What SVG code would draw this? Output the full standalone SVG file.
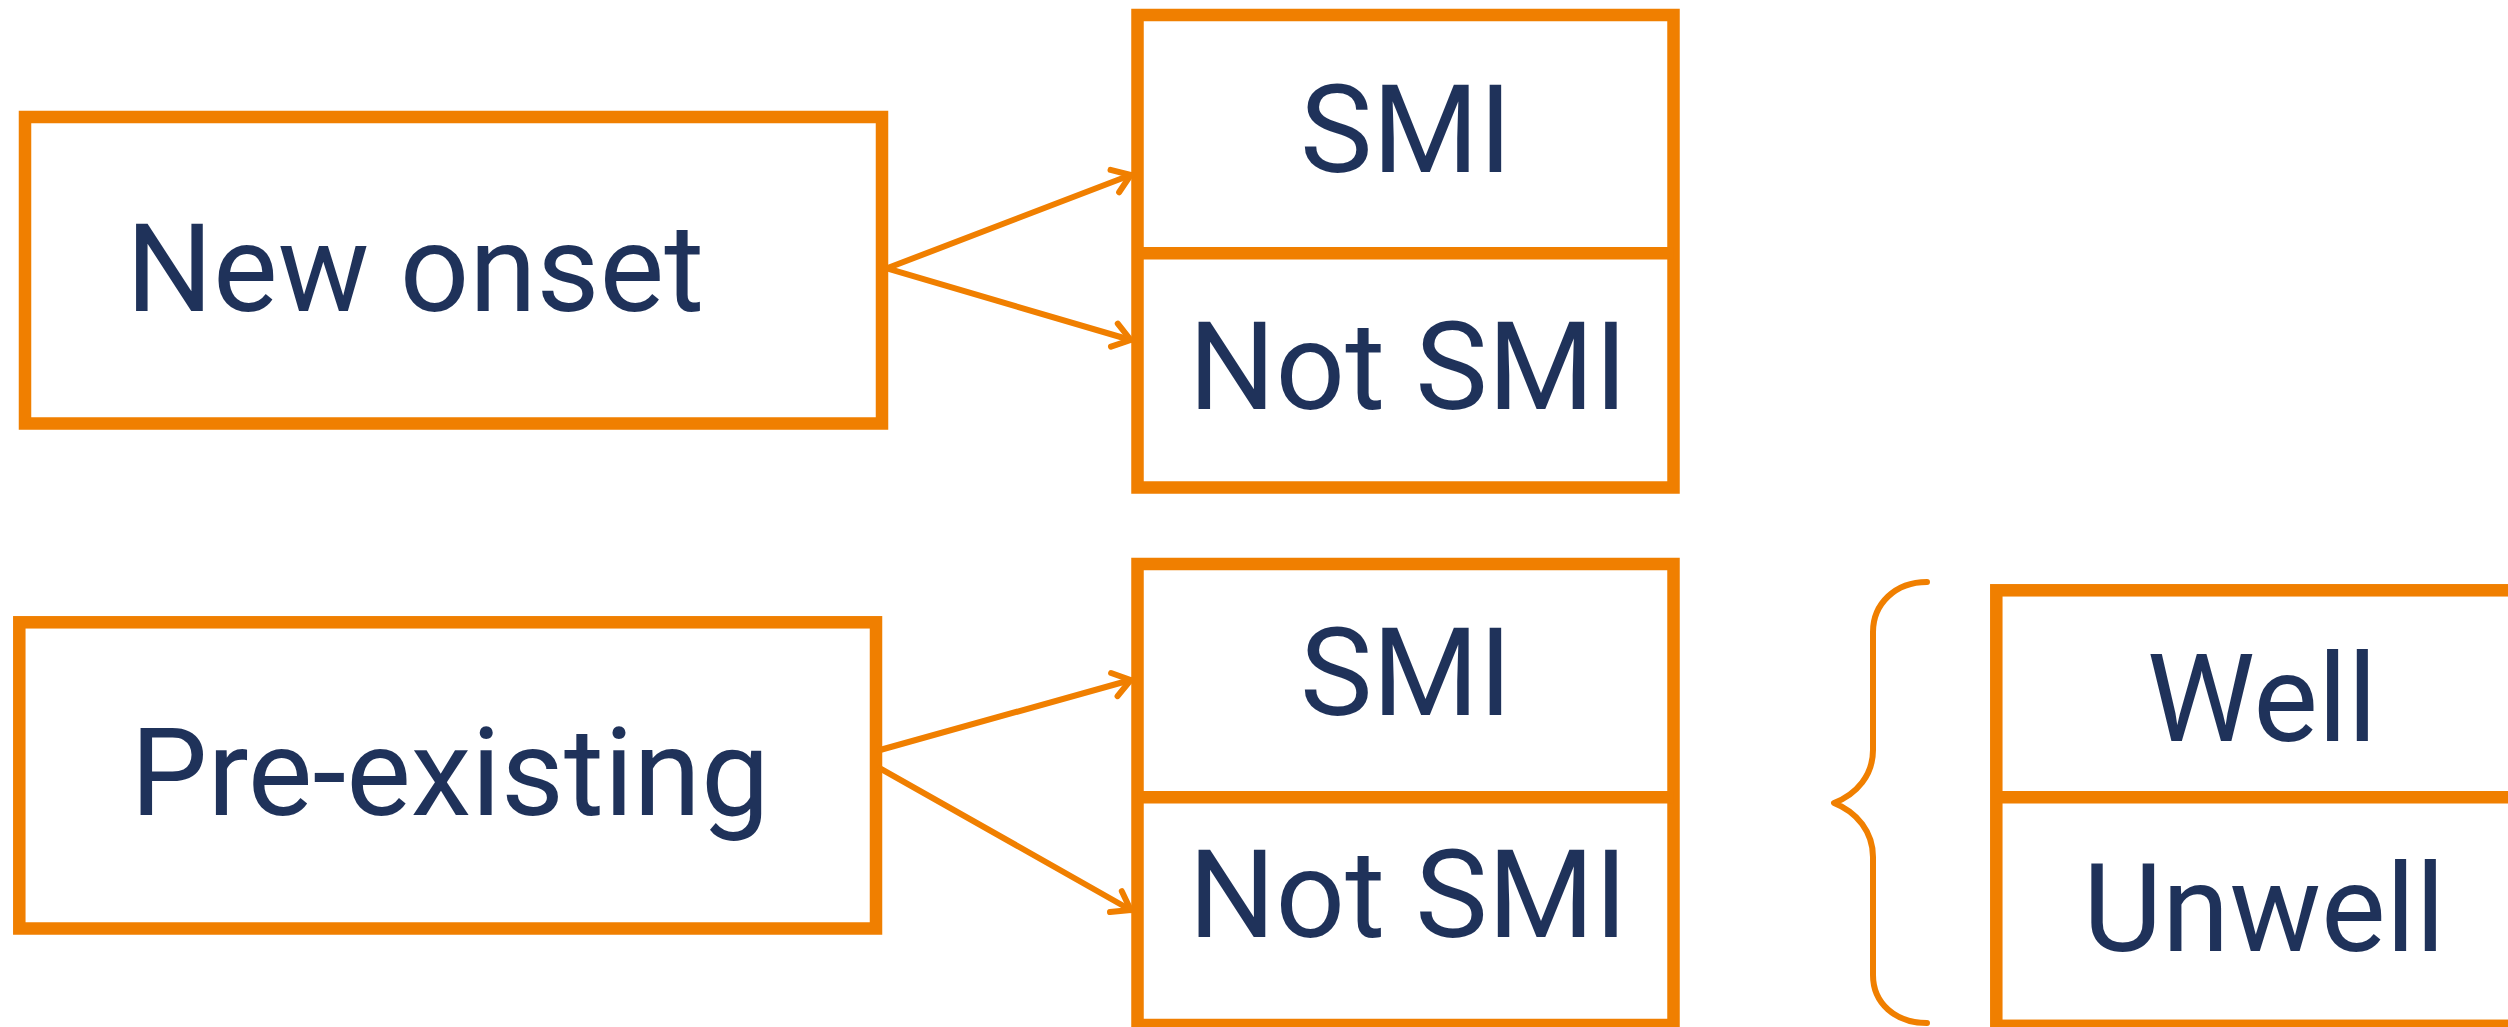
<svg xmlns="http://www.w3.org/2000/svg" width="2508" height="1027" viewBox="0 0 2508 1027">
<style>
.box{fill:#ffffff;stroke:#f07f00;stroke-width:12.5}
.div{stroke:#f07f00;stroke-width:12.5}
.lbl{font-family:Roboto,"Liberation Sans",sans-serif;font-size:122px;fill:#1f325a}
.c{text-anchor:middle}
.conn{stroke:#f07f00;stroke-width:6;fill:none;stroke-linecap:round;stroke-linejoin:round}
</style>
<defs>
<marker id="ah" markerUnits="userSpaceOnUse" markerWidth="40" markerHeight="40" refX="0" refY="0" viewBox="-24 -20 30 40" orient="auto">
<path d="M-17,-12 L0,0 L-17,12" fill="none" stroke="#f07f00" stroke-width="6" stroke-linecap="round" stroke-linejoin="round"/>
</marker>
</defs>
<rect width="2508" height="1027" fill="#ffffff"/>
<g id="new-onset">
<rect class="box" x="25" y="117" width="857" height="306.5"/>
<text class="lbl" x="126" y="311">New onset</text>
</g>
<g id="top-split">
<rect class="box" x="1137.5" y="15" width="536" height="472.5"/>
<line class="div" x1="1137.5" y1="253.3" x2="1673.5" y2="253.3"/>
<text class="lbl c" x="1406" y="172">SMI</text>
<text class="lbl c" x="1408" y="409">Not SMI</text>
</g>
<g id="pre-existing">
<rect class="box" x="19.3" y="622.3" width="856.7" height="306.2"/>
<text class="lbl c" x="450" y="815">Pre-existing</text>
</g>
<g id="bottom-split">
<rect class="box" x="1137.5" y="564" width="536" height="461"/>
<line class="div" x1="1137.5" y1="797.3" x2="1673.5" y2="797.3"/>
<text class="lbl c" x="1406" y="715">SMI</text>
<text class="lbl c" x="1408" y="937">Not SMI</text>
</g>
<g id="well-unwell">
<rect class="box" x="1996.3" y="590.3" width="540" height="435.5"/>
<line class="div" x1="1996.3" y1="797.3" x2="2536.3" y2="797.3"/>
<text class="lbl c" x="2262" y="741">Well</text>
<text class="lbl c" x="2264" y="951">Unwell</text>
</g>
<g id="brace">
<path class="conn" stroke-width="8" d="M1927,582 C1895,582 1873,604 1873,632 L1873,750 C1873,775 1857,794 1834,803 C1857,812 1873,832 1873,857 L1873,975 C1873,1003 1895,1023 1927,1023"/>
</g>
<g id="connectors">
<line class="conn" x1="887" y1="268.3" x2="1130.7" y2="175" marker-end="url(#ah)"/>
<line class="conn" x1="887" y1="268.3" x2="1130.7" y2="340" marker-end="url(#ah)"/>
<line class="conn" x1="880" y1="750" x2="1130.7" y2="680" marker-end="url(#ah)"/>
<line class="conn" x1="880" y1="768.3" x2="1130.7" y2="910" marker-end="url(#ah)"/>
</g>
</svg>
